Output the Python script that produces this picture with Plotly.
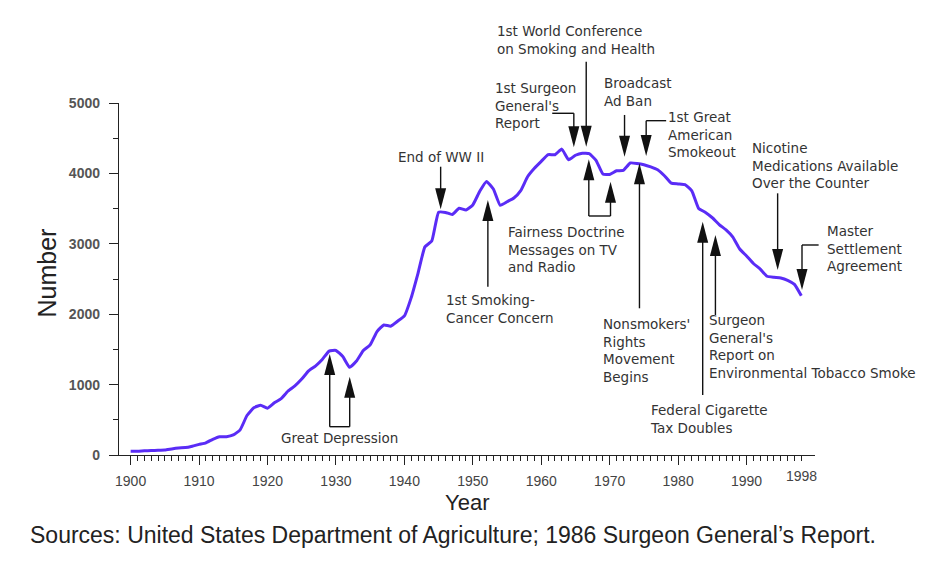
import plotly.graph_objects as go

# ---------------- data ----------------
years = list(range(1900, 1999))
consumption = [54, 53, 60, 64, 66, 70, 86, 99, 105, 125,
               151, 173, 223, 260, 260, 285, 357, 561, 671, 707,
               665, 742, 801, 909, 981, 1078, 1194, 1263, 1357, 1476,
               1485, 1399, 1245, 1334, 1483, 1564, 1754, 1847, 1830, 1900,
               1976, 2236, 2585, 2956, 3039, 3449, 3446, 3416, 3505, 3480,
               3552, 3744, 3886, 3778, 3546, 3597, 3650, 3755, 3953, 4073,
               4171, 4266, 4265, 4345, 4194, 4258, 4287, 4280, 4186, 3993,
               3985, 4037, 4043, 4148, 4141, 4123, 4092, 4051, 3967, 3861,
               3851, 3840, 3753, 3502, 3446, 3370, 3274, 3197, 3096, 2926,
               2827, 2720, 2641, 2539, 2524, 2515, 2482, 2423, 2261]

x_tick_values = [1900, 1910, 1920, 1930, 1940, 1950, 1960, 1970, 1980, 1990]
x_tick_labels = [str(v) for v in x_tick_values]
end_year_label = "1998"
y_tick_values = [0, 1000, 2000, 3000, 4000, 5000]
y_tick_labels = [str(v) for v in y_tick_values]

# event labels: text, anchor (year, value) of the text block
event_texts = [
    ("Great Depression", 1930.55, 237, "center"),
    ("1st Smoking-<br>Cancer Concern", 1945.88, 2067, "left"),
    ("End of WW II", 1945.4, 4237, "center"),
    ("Fairness Doctrine<br>Messages on TV<br>and Radio", 1954.98, 2912, "left"),
    ("1st Surgeon<br>General's<br>Report", 1953.08, 4960, "left"),
    ("1st World Conference<br>on Smoking and Health", 1953.43, 5895, "left"),
    ("Broadcast<br>Ad Ban", 1968.99, 5156, "left"),
    ("1st Great<br>American<br>Smokeout", 1978.34, 4553, "left"),
    ("Nonsmokers'<br>Rights<br>Movement<br>Begins", 1968.9, 1479, "left"),
    ("Surgeon<br>General's<br>Report on<br>Environmental Tobacco Smoke", 1984.32, 1545, "left"),
    ("Federal Cigarette<br>Tax Doubles", 1975.81, 516, "left"),
    ("Nicotine<br>Medications Available<br>Over the Counter", 1990.66, 4119, "left"),
    ("Master<br>Settlement<br>Agreement", 2001.6, 2931, "left"),
]

# vertical arrows: (year, tip value, tail value)
arrows = [
    (1929.09, 1435, 402), (1932.01, 1112, 402),
    (1952.2, 3622, 2391),
    (1945.3, 3490, 4095),
    (1966.95, 4200, 3395), (1970.12, 3882, 3395),
    (1964.76, 4370, 4854),
    (1966.57, 4379, 5587),
    (1972.17, 4237, 4830),
    (1975.33, 4247, 4749),
    (1974.35, 4143, 2084),
    (1985.45, 3125, 1989),
    (1983.59, 3314, 852),
    (1994.54, 2628, 3717),
    (1998.1, 2344, 2983),
]
# horizontal connectors: (year from, year to, value)
connectors = [
    (1929.09, 1932.01, 402),
    (1966.95, 1970.12, 3395),
    (1961.6, 1964.76, 4854),
    (1975.33, 1978.25, 4749),
    (1998.1, 2000.53, 2983),
]

# ---------------- layout geometry ----------------
PAGE_OFFSET = 8          # default body margin of the html page
W, H = 933, 551
ML, MR, MT, MB = 111, 126, 95, 104
PW, PH = W - ML - MR, H - MT - MB
X_RANGE = [1898.3, 2000]
Y_RANGE = [0, 5000]


def xp(yr):
    return (yr - X_RANGE[0]) / (X_RANGE[1] - X_RANGE[0])


def yp(v):
    return (v - Y_RANGE[0]) / (Y_RANGE[1] - Y_RANGE[0])


def pxx(px):
    return (px - PAGE_OFFSET - ML) / PW


def pxy(py):
    return (PAGE_OFFSET + H - MB - py) / PH


HEAD_LEN = 21 / PH
HEAD_HALF = 5.5 / PW

fig = go.Figure()
fig.add_trace(go.Scatter(
    x=years, y=consumption, mode="lines",
    line=dict(color="#5a2cf6", width=3, shape="spline", smoothing=0.4),
    hoverinfo="x+y", showlegend=False,
))

shapes = []
for yr, tip, tail in arrows:
    x = xp(yr)
    t = yp(tip)
    s = 1 if tail > tip else -1
    base = t + s * HEAD_LEN
    shapes.append(dict(type="line", xref="paper", yref="paper",
                       x0=x, x1=x, y0=yp(tail), y1=base - s * 0.004,
                       line=dict(color="#111111", width=1.4)))
    shapes.append(dict(type="path", xref="paper", yref="paper",
                       path=f"M {x},{t} L {x - HEAD_HALF},{base} L {x + HEAD_HALF},{base} Z",
                       fillcolor="#111111", line=dict(width=0)))
for x0, x1, v in connectors:
    shapes.append(dict(type="line", xref="paper", yref="paper",
                       x0=xp(x0), x1=xp(x1), y0=yp(v), y1=yp(v),
                       line=dict(color="#111111", width=1.4)))

ann_font = dict(family="DejaVu Sans, Arial, sans-serif", size=13.5, color="#333333")
annotations = []
for text, yr, v, anchor in event_texts:
    annotations.append(dict(text=text, x=xp(yr), y=yp(v), xref="paper", yref="paper",
                            xanchor=anchor, yanchor="middle", align="left",
                            showarrow=False, font=ann_font, borderpad=0))

annotations.append(dict(text=end_year_label, x=xp(1998), y=pxy(476), xref="paper", yref="paper",
                        xanchor="center", yanchor="middle", showarrow=False,
                        font=dict(family="Liberation Sans, Arial", size=14, color="#444444")))
annotations.append(dict(text="Number", x=pxx(46.5), y=pxy(273), xref="paper", yref="paper",
                        textangle=-90, xanchor="center", yanchor="middle", showarrow=False,
                        font=dict(family="Liberation Sans, Arial", size=25, color="#222222")))
annotations.append(dict(text="Year", x=pxx(467), y=pxy(502), xref="paper", yref="paper",
                        xanchor="center", yanchor="middle", showarrow=False,
                        font=dict(family="Liberation Sans, Arial", size=22, color="#222222")))
annotations.append(dict(text="Sources: United States Department of Agriculture; 1986 Surgeon General\u2019s Report.",
                        x=pxx(28), y=pxy(535), xref="paper", yref="paper",
                        xanchor="left", yanchor="middle", showarrow=False,
                        font=dict(family="Liberation Sans, Arial", size=23, color="#222222")))

fig.update_layout(
    width=W, height=H,
    margin=dict(l=ML, r=MR, t=MT, b=MB),
    paper_bgcolor="white", plot_bgcolor="white",
    shapes=shapes, annotations=annotations,
    showlegend=False,
    xaxis=dict(
        range=X_RANGE, showgrid=False, zeroline=False,
        showline=True, linecolor="#222222", linewidth=1.4,
        tickmode="array", tickvals=x_tick_values, ticktext=x_tick_labels,
        ticks="outside", ticklen=9, tickwidth=1.3, tickcolor="#222222",
        ticklabelstandoff=4,
        tickfont=dict(family="Liberation Sans, Arial", size=14, color="#444444"),
        minor=dict(tickmode="array", tickvals=years, ticks="outside",
                   ticklen=5, tickwidth=1, tickcolor="#222222", showgrid=False),
    ),
    yaxis=dict(
        range=Y_RANGE, showgrid=False, zeroline=False,
        showline=True, linecolor="#222222", linewidth=1.4,
        tickmode="array", tickvals=y_tick_values, ticktext=y_tick_labels,
        ticks="outside", ticklen=9, tickwidth=1.3, tickcolor="#222222",
        ticklabelstandoff=6,
        tickfont=dict(family="Liberation Sans, Arial", size=14, color="#555555", weight="bold"),
        minor=dict(tickmode="array", tickvals=[500, 1500, 2500, 3500, 4500], ticks="outside",
                   ticklen=5, tickwidth=1, tickcolor="#222222", showgrid=False),
    ),
)

fig.write_html("out.html")
